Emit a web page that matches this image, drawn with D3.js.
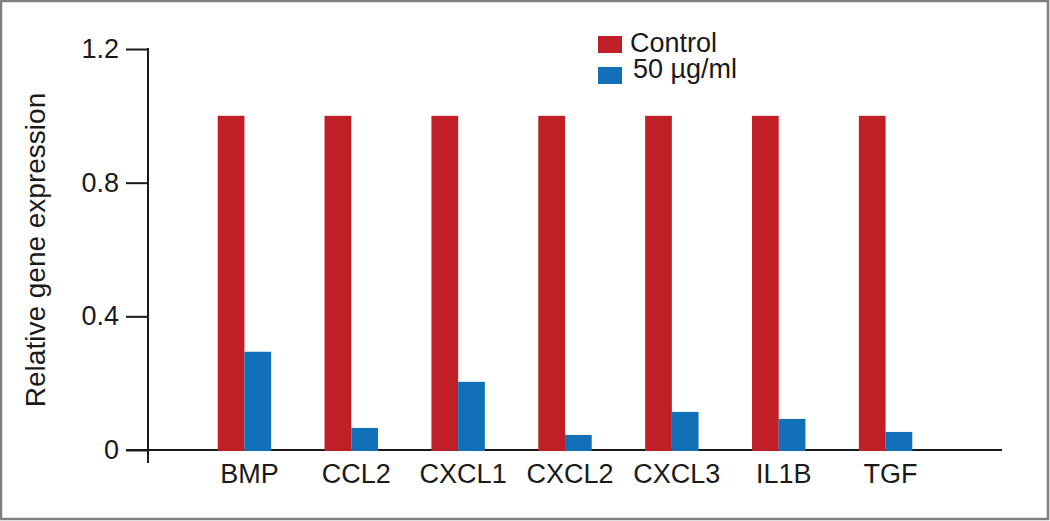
<!DOCTYPE html>
<html><head><meta charset="utf-8">
<script src="https://cdn.jsdelivr.net/npm/d3@7"></script>
<style>body{margin:0;background:#fff}svg{display:block}text{font-family:"Liberation Sans",Arial,sans-serif;fill:#1a1a1a}</style>
</head><body>
<script>
const categories = ["BMP","CCL2","CXCL1","CXCL2","CXCL3","IL1B","TGF"];
const seriesNames = ["Control","50 µg/ml"];
const control = [1,1,1,1,1,1,1];
const treated = [0.294,0.066,0.204,0.045,0.114,0.093,0.054];
const yTicks = [0,0.4,0.8,1.2];
const colors = ["#c01f27","#1270b8"];

const W=1050,H=521;
const svg=d3.select("body").append("svg").attr("width",W).attr("height",H);
svg.append("rect").attr("x",1).attr("y",1).attr("width",W-3).attr("height",H-3)
  .attr("fill","#fff").attr("stroke","#7f7f7f").attr("stroke-width",2.5);

const y=d3.scaleLinear().domain([0,1.2]).range([450,49]);
const x=d3.scaleBand().domain(categories).range([191,939]).paddingInner(0.5).paddingOuter(0.25);
const xs=d3.scaleBand().domain(seriesNames).range([0,x.bandwidth()]);

// axes
const yAxis=svg.append("g").attr("transform","translate(148,0)")
  .call(d3.axisLeft(y).tickValues(yTicks).tickSize(22).tickPadding(7).tickFormat(d=>d===0?"0":d3.format(".1f")(d)));
yAxis.select(".domain").remove();
yAxis.selectAll(".tick line").attr("stroke","#1a1a1a").attr("stroke-width",2);
yAxis.selectAll(".tick text").attr("font-size",27).style("font-family","Liberation Sans, Arial, sans-serif").attr("fill","#1a1a1a");
svg.append("line").attr("x1",148).attr("x2",148).attr("y1",y(1.2)-1).attr("y2",463).attr("stroke","#1a1a1a").attr("stroke-width",2);
svg.append("line").attr("x1",126).attr("x2",1002).attr("y1",y(0)).attr("y2",y(0)).attr("stroke","#1a1a1a").attr("stroke-width",2);

// bars
const data=categories.map((c,i)=>({c,vals:[control[i],treated[i]]}));
const g=svg.selectAll("g.grp").data(data).join("g").attr("class","grp").attr("transform",d=>`translate(${x(d.c)},0)`);
g.selectAll("rect").data(d=>d.vals.map((v,j)=>({v,s:seriesNames[j],j}))).join("rect")
  .attr("x",d=>xs(d.s)).attr("width",xs.bandwidth()).attr("y",d=>y(d.v)).attr("height",d=>y(0)-y(d.v)+1)
  .attr("fill",d=>colors[d.j]);

// x labels
svg.selectAll("text.xl").data(categories).join("text").attr("class","xl")
  .attr("x",d=>x(d)+x.bandwidth()/2+5).attr("y",483).attr("text-anchor","middle").attr("font-size",27).text(d=>d);

// y title
svg.append("text").attr("transform","translate(45,250) rotate(-90)").attr("text-anchor","middle").attr("font-size",28).text("Relative gene expression");

// legend
const leg=svg.append("g");
seriesNames.forEach((s,i)=>{
  leg.append("rect").attr("x",598).attr("y",36+i*31).attr("width",24).attr("height",17).attr("fill",colors[i]);
  leg.append("text").attr("x",i===0?630:633).attr("y",52+i*26).attr("font-size",27).text(s);
});
</script>
</body></html>
